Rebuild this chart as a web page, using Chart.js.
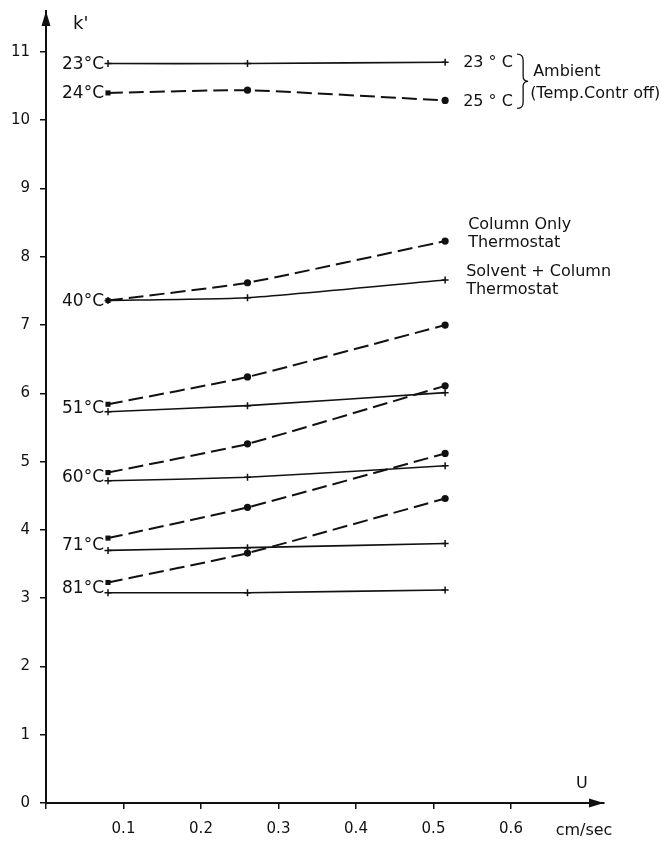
<!DOCTYPE html>
<html>
<head>
<meta charset="utf-8">
<script src="https://cdn.jsdelivr.net/npm/chart.js@4"></script>
<style>
  html, body { margin: 0; padding: 0; background: #fff; }
  #wrap { width: 662px; height: 841px; }
</style>
</head>
<body>
<div id="wrap"><canvas id="kchart" width="662" height="841"></canvas></div>
<script>
// flow velocity u (cm/sec) of the three runs
var uValues = [0.08, 0.26, 0.515];

// k' values, solid = solvent + column thermostat, dashed = column only
var k23Solid = [10.83, 10.83, 10.85];
var kAmbientDashed = [10.40, 10.44, 10.29];
var k40Solvent = [7.36, 7.40, 7.66];
var k40Column = [7.36, 7.62, 8.23];
var k51Solvent = [5.73, 5.82, 6.01];
var k51Column = [5.84, 6.24, 7.00];
var k60Solvent = [4.72, 4.77, 4.94];
var k60Column = [4.84, 5.26, 6.11];
var k71Solvent = [3.70, 3.74, 3.80];
var k71Column = [3.88, 4.33, 5.12];
var k81Solvent = [3.08, 3.08, 3.12];
var k81Column = [3.23, 3.66, 4.46];

var xTickValues = [0, 0.1, 0.2, 0.3, 0.4, 0.5, 0.6];
var xTickLabels = ['', '0.1', '0.2', '0.3', '0.4', '0.5', '0.6'];
var yTickValues = [0, 1, 2, 3, 4, 5, 6, 7, 8, 9, 10, 11];

var ink = '#111';
var fontName = '"DejaVu Sans", sans-serif';

function pts(arr) {
    return arr.map(function (k, i) { return { x: uValues[i], y: k }; });
}

function solid(arr) {
    return {
        data: pts(arr),
        showLine: true,
        borderColor: ink,
        borderWidth: 1.6,
        pointStyle: 'cross',
        pointRadius: 3.5,
        pointBorderWidth: 1.5,
        pointBorderColor: ink,
        pointBackgroundColor: ink
    };
}

function dashed(arr) {
    return {
        data: pts(arr),
        showLine: true,
        borderColor: ink,
        borderWidth: 2,
        borderDash: [15, 6],
        pointStyle: ['rect', 'circle', 'circle'],
        pointRadius: 3.6,
        pointBorderWidth: 0,
        pointBackgroundColor: ink
    };
}

// left temperature labels: text + series whose first point anchors it
var leftLabels = [
    ['23°C', [k23Solid]],
    ['24°C', [kAmbientDashed]],
    ['40°C', [k40Solvent, k40Column]],
    ['51°C', [k51Solvent, k51Column]],
    ['60°C', [k60Solvent, k60Column]],
    ['71°C', [k71Solvent, k71Column]],
    ['81°C', [k81Solvent, k81Column]]
];

var notes = {
    id: 'notes',
    afterDraw: function (chart) {
        var c = chart.ctx, xs = chart.scales.x, ys = chart.scales.y;
        var area = chart.chartArea;
        c.save();
        c.fillStyle = ink;
        c.strokeStyle = ink;

        // axis arrows
        c.beginPath();
        c.moveTo(area.left, area.top);
        c.lineTo(area.left - 4.5, area.top + 15);
        c.lineTo(area.left + 4.5, area.top + 15);
        c.closePath();
        c.fill();
        c.beginPath();
        c.moveTo(area.right, area.bottom);
        c.lineTo(area.right - 15, area.bottom - 4.5);
        c.lineTo(area.right - 15, area.bottom + 4.5);
        c.closePath();
        c.fill();

        c.font = '18px ' + fontName;
        c.textBaseline = 'middle';
        c.textAlign = 'left';
        c.fillText("k'", area.left + 27, area.top + 13);
        c.font = '16px ' + fontName;
        c.fillText('U', area.right - 28, area.bottom - 19);
        c.textAlign = 'center';
        c.fillText('cm/sec', area.right - 20, area.bottom + 28);

        // left labels
        c.font = '17px ' + fontName;
        c.textAlign = 'right';
        var x0 = xs.getPixelForValue(uValues[0]) - 4;
        leftLabels.forEach(function (l) {
            var s = 0;
            l[1].forEach(function (a) { s += a[0]; });
            c.fillText(l[0], x0, ys.getPixelForValue(s / l[1].length) + 1);
        });

        // right labels
        c.font = '16px ' + fontName;
        c.textAlign = 'left';
        var last = uValues.length - 1;
        var xr = xs.getPixelForValue(uValues[last]) + 18;
        var y23 = ys.getPixelForValue(k23Solid[last]);
        var y25 = ys.getPixelForValue(kAmbientDashed[last]);
        c.fillText('23 ° C', xr, y23 + 1);
        c.fillText('25 ° C', xr, y25 + 1);

        // brace
        var bx = xr + 58, top = y23 - 8, bot = y25 + 8, mid = (top + bot) / 2;
        c.lineWidth = 1.3;
        c.beginPath();
        c.moveTo(bx - 4, top);
        c.quadraticCurveTo(bx + 2, top, bx + 2, top + 6);
        c.lineTo(bx + 2, mid - 5);
        c.quadraticCurveTo(bx + 2, mid, bx + 7, mid);
        c.quadraticCurveTo(bx + 2, mid, bx + 2, mid + 5);
        c.lineTo(bx + 2, bot - 6);
        c.quadraticCurveTo(bx + 2, bot, bx - 4, bot);
        c.stroke();
        c.fillText('Ambient', bx + 12, mid - 9);
        c.fillText('(Temp.Contr off)', bx + 9, mid + 13);

        var yc = ys.getPixelForValue(k40Column[last]);
        var ysv = ys.getPixelForValue(k40Solvent[last]);
        c.fillText('Column Only', xr + 5, yc - 16);
        c.fillText('Thermostat', xr + 5, yc + 2);
        c.fillText('Solvent + Column', xr + 3, ysv - 8);
        c.fillText('Thermostat', xr + 3, ysv + 10);
        c.restore();
    }
};

function noPad(s) {
    s.paddingTop = 0;
    s.paddingBottom = 0;
    s.paddingLeft = 0;
    s.paddingRight = 0;
}

new Chart(document.getElementById('kchart'), {
    type: 'scatter',
    data: {
        datasets: [
            solid(k23Solid), dashed(kAmbientDashed),
            solid(k40Solvent), dashed(k40Column),
            solid(k51Solvent), dashed(k51Column),
            solid(k60Solvent), dashed(k60Column),
            solid(k71Solvent), dashed(k71Column),
            solid(k81Solvent), dashed(k81Column)
        ]
    },
    options: {
        responsive: false,
        animation: false,
        layout: { padding: { top: 11, right: 58, left: 0, bottom: 0 } },
        plugins: { legend: { display: false }, tooltip: { enabled: false } },
        elements: { line: { tension: 0.15 } },
        scales: {
            x: {
                type: 'linear',
                min: 0,
                max: 0.72,
                afterFit: function (s) { s.height = 38; noPad(s); },
                afterBuildTicks: function (s) {
                    s.ticks = xTickValues.map(function (v) { return { value: v }; });
                },
                ticks: {
                    color: ink,
                    padding: 11,
                    font: { family: fontName, size: 15 },
                    callback: function (v, i) { return xTickLabels[i]; }
                },
                grid: { drawOnChartArea: false, drawTicks: true, tickLength: 6, color: ink, lineWidth: 1.5 },
                border: { display: true, color: ink, width: 2 }
            },
            y: {
                type: 'linear',
                min: 0,
                max: 11.6,
                afterFit: function (s) { s.width = 46; noPad(s); },
                afterBuildTicks: function (s) {
                    s.ticks = yTickValues.map(function (v) { return { value: v }; });
                },
                ticks: {
                    color: ink,
                    padding: 10,
                    font: { family: fontName, size: 15 },
                    callback: function (v) { return String(v); }
                },
                grid: { drawOnChartArea: false, drawTicks: true, tickLength: 6, color: ink, lineWidth: 1.5 },
                border: { display: true, color: ink, width: 2 }
            }
        }
    },
    plugins: [notes]
});
</script>
</body>
</html>
